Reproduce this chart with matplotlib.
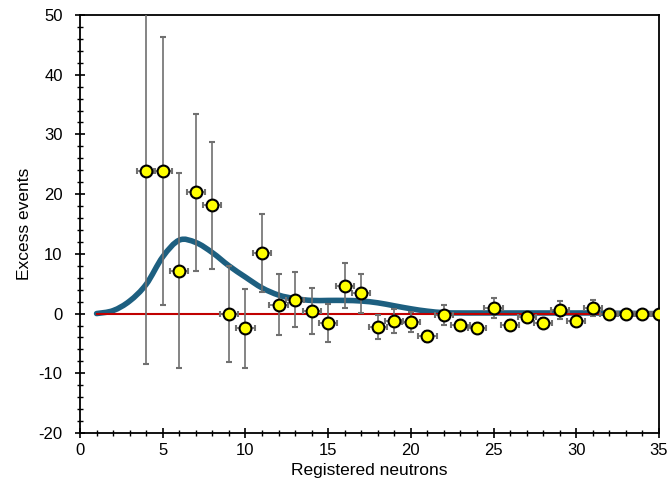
import numpy as np
import matplotlib
matplotlib.use("Agg")
import matplotlib.pyplot as plt
from matplotlib.path import Path
from matplotlib.patches import PathPatch

plt.rcParams['font.family'] = ['Liberation Sans', 'DejaVu Sans']
plt.rcParams['axes.unicode_minus'] = False

# Measured excess events
x_data = list(range(4, 36))
y_data = [23.9, 23.9, 7.2, 20.4, 18.1, 0.0, -2.5, 10.1, 1.4, 2.3, 0.45, -1.6, 4.7, 3.4,
          -2.3, -1.3, -1.4, -3.8, -0.2, -1.85, -2.5, 0.9, -1.85, -0.6, -1.5, 0.6, -1.2,
          0.95, 0.0, 0.0, 0.0, 0.0]
y_hi = [56.0, 46.3, 23.5, 33.5, 28.8, 8.0, 4.1, 16.7, 6.6, 6.9, 4.3, 1.6, 8.5, 6.7,
        -0.3, 0.7, 0.3, -2.9, 1.5, -1.0, -1.6, 2.6, -1.0, 0.2, -0.7, 2.1, -0.4,
        2.3, 0.5, 0.5, 0.5, 0.5]
y_lo = [-8.5, 1.4, -9.1, 7.2, 7.4, -8.1, -9.1, 3.6, -3.6, -2.3, -3.5, -4.7, 0.95, 0.1,
        -4.2, -3.3, -3.1, -4.7, -1.9, -2.7, -3.3, -0.8, -2.7, -1.4, -2.3, -0.9, -2.0,
        -0.4, -0.5, -0.5, -0.5, -0.5]
x_err = 0.55

# Model curve
model_x = list(range(1, 36))
model_y = [0.0, 0.5, 2.1, 4.9, 9.5, 12.3, 11.9, 10.2, 8.0, 6.1, 4.3, 3.1, 2.5, 2.2, 2.2,
           2.2, 2.1, 1.8, 1.3, 0.8, 0.4, 0.15, 0.1, 0.1, 0.1, 0.1, 0.1, 0.1, 0.1, 0.1,
           0.1, 0.05, 0.05, 0.0, 0.0]

# Background (zero) line
bg_x = [1, 31.5]
bg_y = [0, 0]

fig = plt.figure(figsize=(6.67, 4.97), dpi=100)
ax = fig.add_axes([0.12, 0.1288, 0.868, 0.841])

# smooth curve (Excel-like bezier smoothing)
px = np.array(model_x, float)
py = np.array(model_y, float)
n = len(px)
verts = [(px[0], py[0])]
codes = [Path.MOVETO]
for i in range(n - 1):
    p0 = np.array([px[max(i - 1, 0)], py[max(i - 1, 0)]])
    p1 = np.array([px[i], py[i]])
    p2 = np.array([px[i + 1], py[i + 1]])
    p3 = np.array([px[min(i + 2, n - 1)], py[min(i + 2, n - 1)]])
    c1 = p1 + (p2 - p0) / 6.0
    c2 = p2 - (p3 - p1) / 6.0
    verts += [tuple(c1), tuple(c2), tuple(p2)]
    codes += [Path.CURVE4] * 3
patch = PathPatch(Path(verts, codes), facecolor='none', edgecolor='#1d5f80',
                  lw=4.0, capstyle='round', joinstyle='round', zorder=2)
ax.add_patch(patch)

ax.plot(bg_x, bg_y, color='#c00000', lw=1.5, zorder=3)

yd = np.array(y_data)
yerr = [yd - np.array(y_lo), np.array(y_hi) - yd]
ax.errorbar(x_data, y_data, yerr=yerr, xerr=x_err, fmt='o', ms=8.5,
            mfc='#ffff00', mec='black', mew=1.5, ecolor='#707070', elinewidth=1.2,
            capsize=2.2, capthick=1.2, zorder=4)

ax.set_xlim(0, 35)
ax.set_ylim(-20, 50)
ax.set_xticks(range(0, 36, 5))
ax.set_yticks(range(-20, 51, 10))
ax.set_xticks(range(0, 36, 1), minor=True)
ax.set_yticks(range(-20, 51, 2), minor=True)
ax.tick_params(which='major', direction='inout', length=7, width=1.2, labelsize=12,
               top=False, right=False)
ax.tick_params(axis='y', which='major', pad=9)
ax.tick_params(which='minor', direction='inout', length=4, width=1.0,
               top=False, right=False)
for s in ax.spines.values():
    s.set_linewidth(1.3)
    s.set_color('black')

ax.set_xlabel('Registered neutrons', fontsize=12.5)
ax.set_ylabel('Excess events', fontsize=12.5)
ax.yaxis.set_label_coords(-0.083, 0.5)

fig.savefig('out.png', dpi=100)
